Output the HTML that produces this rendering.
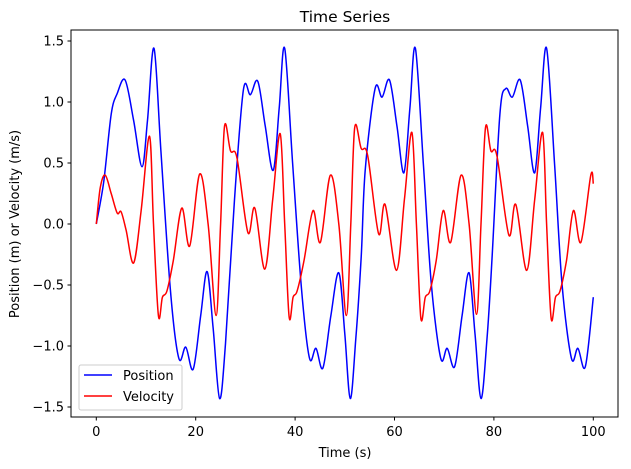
<!DOCTYPE html>
<html><head><meta charset="utf-8"><style>
body{margin:0;background:#fff;}
svg text{font-family:"DejaVu Sans","Liberation Sans",sans-serif;font-size:13px;fill:#000;}
</style></head><body>
<svg id="chart" width="631" height="464" xmlns="http://www.w3.org/2000/svg">
<rect x="0" y="0" width="631" height="464" fill="#fff"/>
<text x="345" y="22" text-anchor="middle" style="font-size:15.5px">Time Series</text>
<text x="345" y="457" text-anchor="middle">Time (s)</text>
<text transform="translate(19,224) rotate(-90)" text-anchor="middle">Position (m) or Velocity (m/s)</text>
<g id="ticks"></g>
<g id="series"></g>
<rect x="71" y="30" width="547" height="387" fill="none" stroke="#000" stroke-width="1"/>
<g>
<rect x="79" y="365" width="103" height="45" rx="2" fill="#fff" fill-opacity="0.8" stroke="#ccc"/>
<line x1="84" y1="375" x2="112" y2="375" stroke="#0000ff" stroke-width="1.5"/>
<text x="123" y="380">Position</text>
<line x1="84" y1="396" x2="112" y2="396" stroke="#ff0000" stroke-width="1.5"/>
<text x="123" y="401">Velocity</text>
</g>
</svg>
<script>
const xTicks=[0,20,40,60,80,100];
const yTicks=[-1.5,-1.0,-0.5,0.0,0.5,1.0,1.5];
const yTickLabels=["\u22121.5","\u22121.0","\u22120.5","0.0","0.5","1.0","1.5"];
const posT=[0,1.5,3,4.2,5.8,7.5,9.2,10.3,11.6,13,14.9,16.6,18,19.5,21,22.3,23.5,24.8,26,27.8,29.6,31,32.5,34,35.6,36.8,37.9,39.5,41.3,42.9,44.2,45.6,47.2,48.8,50,51.1,52.2,53.3,54.1,56.1,57.5,59,60.5,61.9,63.1,64.2,65.8,67.4,69.3,70.6,72.1,73.6,75,76.2,77.4,78.6,79.6,81.2,82.4,83.7,85.3,86.8,88.2,89.4,90.6,92.2,93.7,95.6,96.9,98.4,100];
const posV=[0,0.35,0.9,1.07,1.18,0.85,0.47,0.85,1.44,0.6,-0.54,-1.1,-1.01,-1.19,-0.75,-0.39,-0.85,-1.43,-0.98,0.2,1.1,1.06,1.17,0.8,0.44,0.95,1.44,0.5,-0.54,-1.1,-1.02,-1.18,-0.75,-0.4,-0.9,-1.43,-0.95,-0.27,0.44,1.11,1.04,1.18,0.8,0.42,0.95,1.44,0.5,-0.49,-1.1,-1.02,-1.17,-0.75,-0.4,-0.9,-1.43,-0.95,-0.3,0.9,1.11,1.04,1.18,0.8,0.42,0.95,1.44,0.5,-0.49,-1.1,-1.02,-1.17,-0.6];
const velT=[0,0.8,1.8,3,4.2,5,6,7.5,9,10.7,11.5,12.5,13.3,14.2,15.5,17.2,18.8,20.8,22.5,24.1,25,25.8,27,28.3,30.5,31.9,33.9,35.5,37,37.9,38.8,39.6,40.4,41.8,43.6,45.1,47.1,48.8,50.3,51.2,52,53.3,54.6,56.8,58.1,60.4,62,63.5,64.4,65.3,66.2,67.1,68.4,69.8,71.3,73.4,75,76.5,77.4,78.3,79.4,80.6,83,84.4,86.6,88.2,89.8,90.6,91.5,92.4,93.3,94.6,96,97.5,99.5,100];
const velV=[0,0.3,0.40,0.25,0.09,0.10,-0.05,-0.32,0.1,0.72,0.0,-0.75,-0.6,-0.55,-0.3,0.13,-0.18,0.41,0.0,-0.75,0.0,0.80,0.6,0.54,-0.07,0.13,-0.37,0.2,0.74,0.0,-0.76,-0.6,-0.55,-0.3,0.11,-0.15,0.40,0.0,-0.75,0.0,0.79,0.62,0.56,-0.08,0.16,-0.38,0.2,0.75,0.0,-0.77,-0.6,-0.55,-0.3,0.11,-0.15,0.40,0.0,-0.74,0.0,0.79,0.6,0.56,-0.09,0.16,-0.38,0.2,0.75,0.0,-0.77,-0.6,-0.55,-0.3,0.11,-0.15,0.40,0.33];

const NS="http://www.w3.org/2000/svg";
function sx(t){return 96.3+t*4.97;}
function sy(v){return 224-v*122;}
const tg=document.getElementById('ticks');
xTicks.forEach(function(t){
  const l=document.createElementNS(NS,'line');
  l.setAttribute('x1',sx(t));l.setAttribute('x2',sx(t));l.setAttribute('y1',417);l.setAttribute('y2',420.5);l.setAttribute('stroke','#000');
  
  
  tg.appendChild(l);
  const tx=document.createElementNS(NS,'text');
  tx.setAttribute('x',sx(t));tx.setAttribute('y',436);tx.setAttribute('text-anchor','middle');tx.textContent=t;
  
  
  tg.appendChild(tx);
});
yTicks.forEach(function(v,i){
  const l=document.createElementNS(NS,'line');
  l.setAttribute('x1',67.5);l.setAttribute('x2',71);l.setAttribute('y1',sy(v));l.setAttribute('y2',sy(v));l.setAttribute('stroke','#000');
  
  
  tg.appendChild(l);
  const tx=document.createElementNS(NS,'text');
  tx.setAttribute('x',64);tx.setAttribute('y',sy(v)+4.5);tx.setAttribute('text-anchor','end');tx.textContent=yTickLabels[i];
  
  
  tg.appendChild(tx);
});
function pathFor(T,V){
  const p=T.map(function(t,i){return [sx(t),sy(V[i])];});
  let d='M'+p[0][0].toFixed(1)+','+p[0][1].toFixed(1);
  for(let i=0;i<p.length-1;i++){
    const p0=p[Math.max(0,i-1)],p1=p[i],p2=p[i+1],p3=p[Math.min(p.length-1,i+2)];
    const c1=[p1[0]+(p2[0]-p0[0])/6,p1[1]+(p2[1]-p0[1])/6];
    const c2=[p2[0]-(p3[0]-p1[0])/6,p2[1]-(p3[1]-p1[1])/6];
    d+='C'+c1[0].toFixed(1)+','+c1[1].toFixed(1)+' '+c2[0].toFixed(1)+','+c2[1].toFixed(1)+' '+p2[0].toFixed(1)+','+p2[1].toFixed(1);
  }
  return d;
}
const sg=document.getElementById('series');
const pp=document.createElementNS(NS,'path');
pp.setAttribute('d',pathFor(posT,posV));pp.setAttribute('fill','none');pp.setAttribute('stroke','#0000ff');pp.setAttribute('stroke-width','1.5');


sg.appendChild(pp);
const vp=document.createElementNS(NS,'path');
vp.setAttribute('d',pathFor(velT,velV));vp.setAttribute('fill','none');vp.setAttribute('stroke','#ff0000');vp.setAttribute('stroke-width','1.5');


sg.appendChild(vp);
</script>
</body></html>
